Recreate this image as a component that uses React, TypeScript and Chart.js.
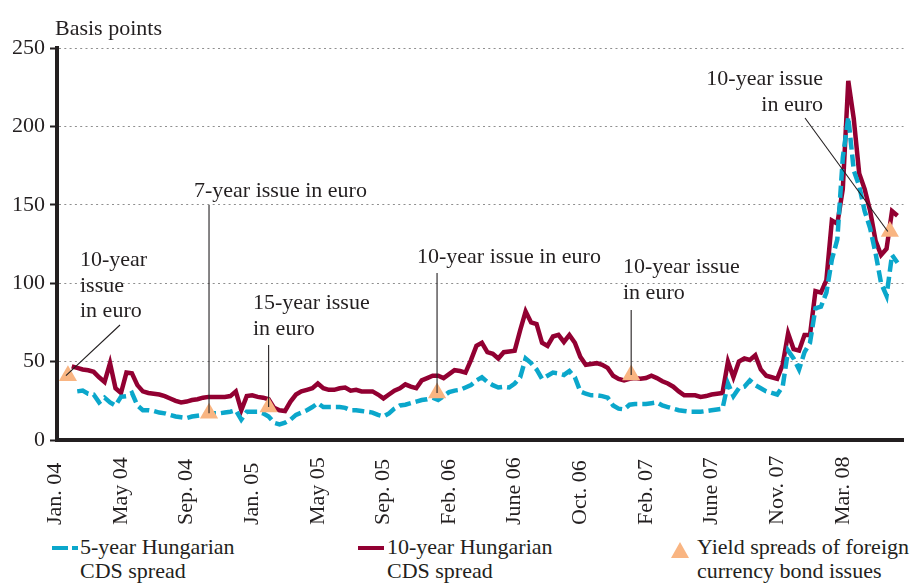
import React, { useEffect, useRef } from 'react';
import { Chart, registerables } from 'chart.js';

Chart.register(...registerables);

// ---------- data ----------
// One step = 1/12 of the spacing between two labelled dates.
const TICK_LABELS = ['Jan. 04', 'May 04', 'Sep. 04', 'Jan. 05', 'May 05', 'Sep. 05', 'Feb. 06', 'June 06', 'Oct. 06', 'Feb. 07', 'June 07', 'Nov. 07', 'Mar. 08'];
const TICK_STEP = 12;

// 10-year Hungarian CDS spread (basis points)
const TEN_YEAR: (number | null)[] = [
  null, null, null, 47, 46, 45, 44.5, 43.5, 40, 37,
  49, 33, 30, 43, 42.5, 35, 31, 30, 29.5, 29,
  28, 26.5, 25, 24, 24.5, 25.5, 26, 27, 27.5, 27.5,
  27.5, 27.5, 28, 31, 19, 28, 28.5, 27.5, 27, 26,
  20.5, 19, 18.5, 24.5, 29, 31, 32, 33, 36, 33,
  32, 32, 33, 33.5, 31.5, 32, 31, 31, 31, 29,
  26.5, 29, 31.5, 33, 35.5, 34, 33, 38, 39.5, 41,
  41, 39.5, 42, 44.5, 44, 43, 51, 60, 62, 56,
  55, 52, 56, 56.5, 57, 70, 82, 75, 74, 62,
  60, 66, 67, 62.5, 67, 62, 53, 48, 48.5, 49,
  48, 46, 41, 39, 38, 39, 39.5, 39, 39.5, 41,
  39.5, 37.5, 36, 34, 31, 28.5, 28.5, 28.5, 27.5, 28,
  29, 29.5, 30, 50, 40, 50, 52, 51, 54, 45,
  41, 40, 39, 48, 68, 58, 57, 67, 67, 95,
  94, 102, 140, 138, 160, 229, 205, 170, 160, 146,
  127, 118, 122, 146, 143,
];

// 5-year Hungarian CDS spread (basis points)
const FIVE_YEAR: (number | null)[] = [
  null, null, null, null, 31, 31.5, 29.5, 29, 24, 27,
  24, 22, 27.5, 28, 30, 22, 19, 19, 18.5, 17.5,
  17, 16, 15, 14.5, 14, 15, 15.5, 16, 16.5, 17,
  17, 17.5, 18, 19, 13, 18, 18, 18, 17, 15,
  11, 10, 11, 13, 16, 17.5, 19, 21, 23.5, 21,
  21, 21, 21, 20.5, 19, 19, 18.5, 18, 17.5, 16,
  15, 17, 20, 22, 22.5, 23.5, 24.5, 25.5, 26, 27,
  25.5, 28, 30.5, 31.5, 32, 33.5, 35, 38, 40, 37,
  35, 33.5, 34, 33.5, 36, 40, 52, 49, 45, 39,
  41, 43, 42.5, 41.5, 44, 40, 31, 29.5, 28.5, 28.5,
  28, 27, 22, 20, 19.5, 22.5, 23, 23, 23, 23.5,
  24, 22, 21, 20, 19, 18.5, 18, 18, 18, 18.5,
  19, 19.5, 20, 36, 28, 33, 34, 38, 35, 33,
  31, 30, 29, 34, 57, 52, 45, 56, 62, 84,
  85, 94, 115, 128, 180, 206, 172, 162, 146, 135,
  119, 100, 92, 118, 113,
];

// Yield spreads of foreign currency bond issues (position on the time steps, basis points)
const ISSUE_X = [2.3, 28.1, 39, 69.8, 105.3, 152.6];
const ISSUE_Y = [41, 17, 21, 30, 41.5, 133];
const ISSUE_TEXT: string[][] = [
  ['10-year', 'issue', 'in euro'],
  ['7-year issue in euro'],
  ['15-year issue', 'in euro'],
  ['10-year issue in euro'],
  ['10-year issue', 'in euro'],
  ['10-year issue', 'in euro'],
];

const Y_TITLE = 'Basis points';
const LEGEND_TEXT = [
  ['5-year Hungarian', 'CDS spread'],
  ['10-year Hungarian', 'CDS spread'],
  ['Yield spreads of foreign', 'currency bond issues'],
];

// ---------- styles / layout ----------
const FONT = '"Liberation Serif", "Times New Roman", serif';
const FONT_SIZE = 22;
const INK = '#231f20';
const RED = '#920032';
const CYAN = '#0ba7cb';
const ORANGE = '#f9b582';

// text anchor (x, first baseline, align) and leader start for each annotation
const ANNOT_LAYOUT = [
  { tx: 80, ty: 266, align: 'left', lx: 120, ly: 325 },
  { tx: 194, ty: 197, align: 'left', lx: null, ly: 205 },
  { tx: 253, ty: 309, align: 'left', lx: null, ly: 345 },
  { tx: 417, ty: 263, align: 'left', lx: null, ly: 273 },
  { tx: 623, ty: 273, align: 'left', lx: null, ly: 310 },
  { tx: 823, ty: 85, align: 'right', lx: 805, ly: 118 },
];

const overlayPlugin = {
  id: 'overlay',
  afterDatasetsDraw(chart: any) {
    const { ctx, scales } = chart;
    const xs = scales.x;
    const ys = scales.y;
    ctx.save();
    // leader lines
    ctx.strokeStyle = INK;
    ctx.lineWidth = 1.1;
    ANNOT_LAYOUT.forEach((a, k) => {
      const px = xs.getPixelForValue(ISSUE_X[k]);
      const py = ys.getPixelForValue(ISSUE_Y[k]);
      const sx = a.lx === null ? px : a.lx;
      ctx.beginPath();
      ctx.moveTo(sx, a.ly);
      ctx.lineTo(a.lx === null ? px : px - 2, py);
      ctx.stroke();
    });
    // annotation texts
    ctx.fillStyle = INK;
    ctx.font = `${FONT_SIZE}px ${FONT}`;
    ctx.textBaseline = 'alphabetic';
    ANNOT_LAYOUT.forEach((a, k) => {
      ctx.textAlign = a.align;
      ISSUE_TEXT[k].forEach((line, j) => {
        ctx.fillText(line, a.tx, a.ty + j * 25.5);
      });
    });
    // y-axis title
    ctx.textAlign = 'left';
    ctx.fillText(Y_TITLE, 55, 35);
    // x tick labels, rotated, aligned at the bottom
    ctx.textAlign = 'left';
    ctx.textBaseline = 'middle';
    TICK_LABELS.forEach((lab, k) => {
      const px = xs.getPixelForValue(k * TICK_STEP);
      ctx.save();
      ctx.translate(px, 525);
      ctx.rotate(-Math.PI / 2);
      ctx.fillText(lab, 0, 0);
      ctx.restore();
    });
    ctx.restore();
  },
};

function toPoints(arr: (number | null)[]) {
  return arr.map((v, i) => ({ x: i, y: v }));
}

export default function App() {
  const ref = useRef<HTMLCanvasElement | null>(null);

  useEffect(() => {
    if (!ref.current) return;
    const chart = new Chart(ref.current, {
      type: 'line',
      data: {
        datasets: [
          {
            label: 'Yield spreads of foreign currency bond issues',
            data: ISSUE_X.map((x, i) => ({ x, y: ISSUE_Y[i] })),
            showLine: false,
            pointStyle: 'triangle',
            pointRadius: 10.5,
            pointBackgroundColor: ORANGE,
            pointBorderColor: ORANGE,
            pointBorderWidth: 0,
            borderColor: ORANGE,
            backgroundColor: ORANGE,
            order: 0,
          } as any,
          {
            label: '5-year Hungarian CDS spread',
            data: toPoints(FIVE_YEAR),
            borderColor: CYAN,
            borderWidth: 4.5,
            borderDash: [12, 5],
            pointRadius: 0,
            fill: false,
            order: 1,
          },
          {
            label: '10-year Hungarian CDS spread',
            data: toPoints(TEN_YEAR),
            borderColor: RED,
            borderWidth: 4.5,
            pointRadius: 0,
            fill: false,
            order: 2,
          },
        ],
      },
      options: {
        animation: false,
        responsive: false,
        maintainAspectRatio: false,
        layout: { padding: { top: 48, right: 2, left: 0, bottom: 0 } },
        plugins: { legend: { display: false }, tooltip: { enabled: false } },
        elements: { line: { tension: 0 } },
        scales: {
          x: {
            type: 'linear',
            min: 0.3,
            max: 155.1,
            grid: { display: false, drawTicks: false },
            ticks: { display: false },
            border: { display: true, color: INK, width: 4 },
            afterFit: (s: any) => {
              s.height = 90;
            },
          },
          y: {
            min: 0,
            max: 250,
            ticks: {
              stepSize: 50,
              color: INK,
              padding: 5,
              font: { family: FONT, size: FONT_SIZE },
            },
            grid: {
              color: (c: any) => (c.tick && c.tick.value === 0 ? 'rgba(0,0,0,0)' : '#8f8f8f'),
              lineWidth: 1,
              tickColor: INK,
              tickWidth: 2,
              tickLength: 7,
            },
            border: { display: true, color: INK, width: 4, dash: [2, 3.3] },
            afterFit: (s: any) => {
              s.width = 57;
            },
          },
        },
      } as any,
      plugins: [overlayPlugin],
    });
    return () => chart.destroy();
  }, []);

  const textStyle = (left: number): React.CSSProperties => ({
    position: 'absolute',
    left,
    top: 535,
    fontSize: FONT_SIZE,
    lineHeight: '24px',
    fontFamily: FONT,
    color: INK,
    whiteSpace: 'nowrap',
  });

  return (
    <div style={{ position: 'absolute', left: 0, top: 0, width: 914, height: 584, background: '#fff', overflow: 'hidden' }}>
      <canvas ref={ref} width={914} height={530} style={{ position: 'absolute', left: 0, top: 0, width: 914, height: 530 }} />
      <svg style={{ position: 'absolute', left: 52, top: 546 }} width={26} height={4}>
        <line x1={0} y1={2} x2={26} y2={2} stroke={CYAN} strokeWidth={4} strokeDasharray="16 4" />
      </svg>
      <div style={textStyle(80)}>
        {LEGEND_TEXT[0][0]}
        <br />
        {LEGEND_TEXT[0][1]}
      </div>
      <svg style={{ position: 'absolute', left: 358, top: 546 }} width={26} height={4}>
        <line x1={0} y1={2} x2={26} y2={2} stroke={RED} strokeWidth={4} />
      </svg>
      <div style={textStyle(387)}>
        {LEGEND_TEXT[1][0]}
        <br />
        {LEGEND_TEXT[1][1]}
      </div>
      <svg style={{ position: 'absolute', left: 671, top: 542 }} width={18} height={16}>
        <polygon points="9,0 18,16 0,16" fill={ORANGE} />
      </svg>
      <div style={textStyle(697)}>
        {LEGEND_TEXT[2][0]}
        <br />
        {LEGEND_TEXT[2][1]}
      </div>
    </div>
  );
}
